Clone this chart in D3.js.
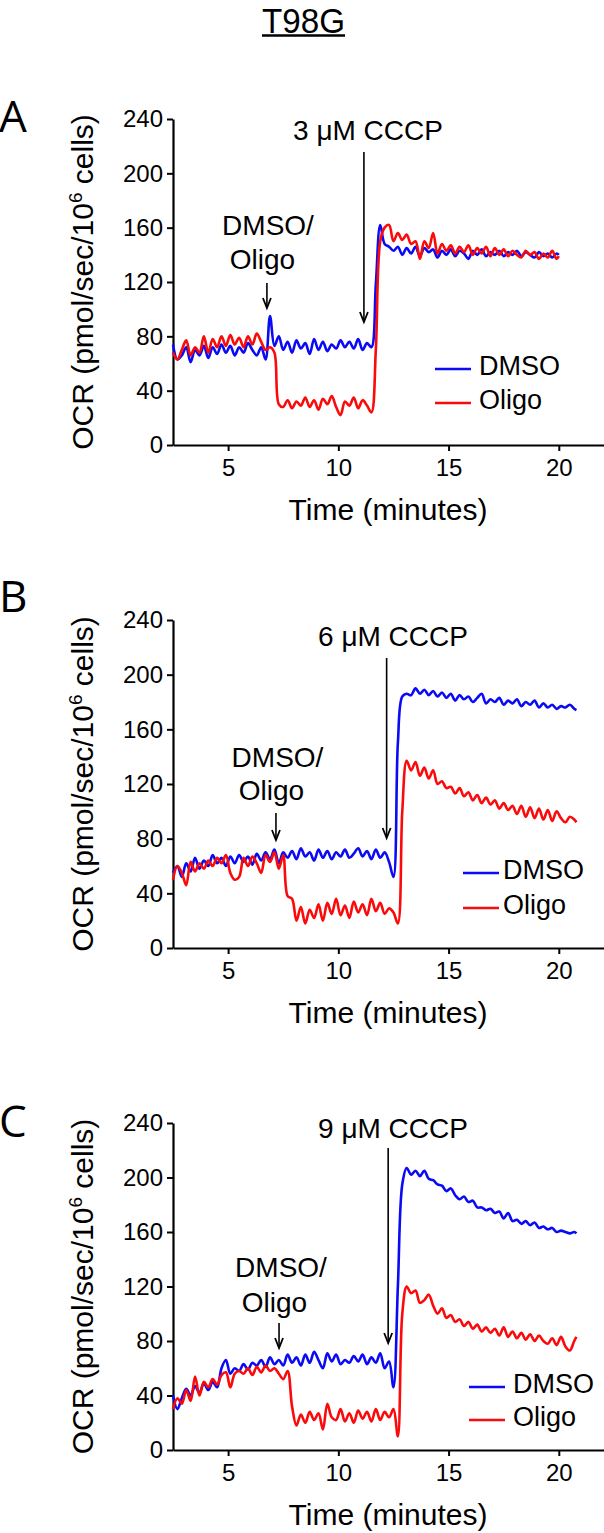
<!DOCTYPE html>
<html><head><meta charset="utf-8">
<script src="https://cdn.jsdelivr.net/npm/d3@7"></script>
<style>body{margin:0;background:#fff}svg{display:block}</style>
</head><body>
<script>
// ---------- DATA ----------
const timeA = [2.5,2.7,2.9,3.1,3.3,3.5,3.7,3.9,4.1,4.3,4.5,4.7,4.9,5.1,5.3,5.5,5.7,5.9,6.1,6.3,6.5,6.7,6.9,7.1,7.3,7.5,7.7,7.9,8.1,8.3,8.5,8.7,8.9,9.1,9.3,9.5,9.7,9.9,10.1,10.3,10.5,10.7,10.9,11.1,11.3,11.5,11.7,11.9,12.1,12.3,12.5,12.7,12.9,13.1,13.3,13.5,13.7,13.9,14.1,14.3,14.5,14.7,14.9,15.1,15.3,15.5,15.7,15.9,16.1,16.3,16.5,16.7,16.9,17.1,17.3,17.5,17.7,17.9,18.1,18.3,18.5,18.7,18.9,19.1,19.3,19.5,19.7,19.9,20.0];
const timeBC = [2.5,2.7,2.9,3.1,3.3,3.5,3.7,3.9,4.1,4.3,4.5,4.7,4.9,5.1,5.3,5.5,5.7,5.9,6.1,6.3,6.5,6.7,6.9,7.1,7.3,7.5,7.7,7.9,8.1,8.3,8.5,8.7,8.9,9.1,9.3,9.5,9.7,9.9,10.1,10.3,10.5,10.7,10.9,11.1,11.3,11.5,11.7,11.9,12.1,12.3,12.5,12.7,12.9,13.1,13.3,13.5,13.7,13.9,14.1,14.3,14.5,14.7,14.9,15.1,15.3,15.5,15.7,15.9,16.1,16.3,16.5,16.7,16.9,17.1,17.3,17.5,17.7,17.9,18.1,18.3,18.5,18.7,18.9,19.1,19.3,19.5,19.7,19.9,20.1,20.3,20.5,20.7,20.8];

const dmsoA = [74,63,66,72,61,70,66,73,64,72,67,74,68,73,66,72,68,75,70,66,72,
  63,95,73,80,70,76,68,77,71,75,67,78,70,76,69,74,71,77,72,76,71,78,70,75,72,
  118,162,148,146,143,146,140,145,141,146,139,145,142,144,138,143,140,144,139,143,141,137,143,140,144,139,142,140,143,139,142,140,143,139,142,140,138,142,139,141,138,141,
  140];
const oligoA = [68,63,70,77,66,72,68,80,68,78,72,80,73,81,74,79,72,80,74,82,76,
  70,72,68,30,28,33,27,32,29,35,28,33,26,34,30,36,28,22,32,29,35,27,33,29,24,
  70,150,160,162,150,156,151,155,148,150,137,150,145,156,141,148,143,147,141,146,142,147,140,145,141,146,139,145,140,144,139,143,140,138,143,140,142,137,141,138,143,137,
  139];

const dmsoB = [55,60,52,62,56,66,58,64,60,68,62,66,60,67,62,68,63,67,61,69,64,
  70,65,72,62,70,66,71,65,73,67,70,64,72,66,71,65,70,67,72,66,69,73,67,71,65,
  72,66,70,63,52,150,184,186,185,190,186,189,185,188,184,187,183,186,181,185,182,184,180,183,186,179,182,180,183,178,181,179,182,177,180,178,181,176,179,176,178,175,177,176,178,175,
  174];
const oligoB = [50,60,55,46,63,56,62,58,64,60,66,62,68,55,50,52,66,60,67,62,55,
  68,63,70,58,68,38,36,20,30,18,28,22,32,20,33,25,36,24,31,22,34,26,32,24,36,
  27,33,25,29,26,18,100,137,130,136,126,132,124,130,120,122,117,118,113,117,111,114,108,112,106,110,105,108,102,106,101,104,98,104,96,103,95,102,94,101,93,100,95,92,96,94,
  92];

const dmsoC = [40,30,38,45,40,47,42,49,44,50,46,60,66,56,60,58,63,59,64,62,66,
  61,68,63,66,62,70,64,68,62,70,64,72,66,60,71,65,70,63,66,64,69,65,70,63,68,
  64,71,60,65,46,120,195,207,202,205,201,205,199,198,195,194,190,192,187,184,186,182,183,178,178,176,177,174,175,170,174,168,169,166,168,165,167,163,164,162,163,160,161,160,159,160,
  159];
const oligoC = [30,38,34,44,36,54,40,50,46,52,48,55,57,46,56,58,56,60,55,61,57,
  62,58,60,56,52,58,32,18,26,20,28,22,27,15,34,24,22,30,21,27,20,29,23,28,21,
  30,22,28,24,30,10,100,120,115,117,108,110,114,106,100,104,97,99,94,96,91,94,89,92,87,90,86,89,84,90,83,87,82,86,81,85,80,84,80,78,82,77,83,76,73,80,
  83];

const yTicks = [0,40,80,120,160,200,240];
const xTicks = [5,10,15,20];
const seriesNames = ["DMSO","Oligo"];
const panelLabels = ["A","B","C"];
const cccpLabels = ["3 \u03BCM CCCP","6 \u03BCM CCCP","9 \u03BCM CCCP"];
const oligoInjection = [6.76, 7.17, 7.31];
const cccpInjection = [11.16, 12.19, 12.26];

// ---------- LAYOUT ----------
const W = 604, H = 1533;
const colors = ["#0a0af5", "#fa0a0a"];
const layout = [
  {top:119, bottom:445, labY:132, cccpTx:368, cccpTy:140, cccpY0:152, cccpY1:322,
   d1x:268, d1y:235, d2x:262.5, d2y:269, dY0:283, dY1:308, lx0:435, lx1:471, ly:[369,403], ltx:479},
  {top:620, bottom:948, labY:612, cccpTx:393, cccpTy:646, cccpY0:658, cccpY1:838,
   d1x:277.5, d1y:767, d2x:271.5, d2y:800, dY0:813, dY1:840, lx0:463, lx1:499, ly:[873,908], ltx:503},
  {top:1123, bottom:1450, labY:1137, cccpTx:393, cccpTy:1138, cccpY0:1148, cccpY1:1343,
   d1x:281, d1y:1277, d2x:274.5, d2y:1312, dY0:1323, dY1:1348, lx0:469, lx1:505, ly:[1387,1420], ltx:513}
];
const panels = [
  {time: timeA, series: [dmsoA, oligoA]},
  {time: timeBC, series: [dmsoB, oligoB]},
  {time: timeBC, series: [dmsoC, oligoC]}
];

const svg = d3.select("body").append("svg").attr("width", W).attr("height", H)
  .style("font-family", "'Liberation Sans', Arial, sans-serif");

// Title
svg.append("text").attr("x", 303.5).attr("y", 32.5).attr("text-anchor", "middle")
  .attr("font-family", "'Liberation Sans', Arial, sans-serif").attr("font-size", 35)
  .attr("textLength", 83).attr("lengthAdjust", "spacingAndGlyphs").text("T98G");
svg.append("line").attr("x1", 262).attr("x2", 345).attr("y1", 35.5).attr("y2", 35.5)
  .attr("stroke", "#000").attr("stroke-width", 2.5);

const x = d3.scaleLinear().domain([2.5, 22.05]).range([173, 604]);

panels.forEach((p, i) => {
  const L = layout[i];
  const y = d3.scaleLinear().domain([0, 240]).range([L.bottom, L.top]);
  const g = svg.append("g");

  // panel label
  g.append("text").attr("x", -1).attr("y", L.labY)
    .attr("font-family", "'Open Sans', sans-serif").attr("font-size", 44).text(panelLabels[i]);

  // axes
  const ya = g.append("g").attr("transform", `translate(173,0)`)
    .call(d3.axisLeft(y).tickValues(yTicks).tickSize(6).tickSizeOuter(0).tickPadding(4));
  const xa = g.append("g").attr("transform", `translate(0,${L.bottom})`)
    .call(d3.axisBottom(x).tickValues(xTicks).tickSize(6).tickSizeOuter(0).tickPadding(8));
  [ya, xa].forEach(a => {
    a.select(".domain").attr("stroke-width", 2.2);
    a.selectAll(".tick line").attr("stroke-width", 2);
    a.selectAll(".tick text").attr("font-size", 24).attr("fill", "#000")
      .attr("font-family", "'Liberation Sans', Arial, sans-serif");
  });

  // axis titles
  g.append("text").attr("x", 388).attr("y", L.bottom + 75).attr("text-anchor", "middle")
    .attr("font-size", 30).text("Time (minutes)");
  const yt = g.append("text").attr("transform", `translate(93,${(L.top + L.bottom) / 2}) rotate(-90)`)
    .attr("text-anchor", "middle").attr("font-size", 30);
  yt.append("tspan").text("OCR (pmol/sec/10");
  yt.append("tspan").attr("dy", -11).attr("font-size", 19).text("6");
  yt.append("tspan").attr("dy", 11).text(" cells)");

  // lines
  const line = d3.line().x((d, j) => x(p.time[j])).y(d => y(d)).curve(d3.curveCatmullRom.alpha(0.5));
  p.series.forEach((s, k) => {
    g.append("path").datum(s).attr("d", line).attr("fill", "none")
      .attr("stroke", colors[k]).attr("stroke-width", 2.6).attr("stroke-linejoin", "round");
  });

  // annotations
  const arrow = (ax, y0, y1) => {
    g.append("line").attr("x1", ax).attr("x2", ax).attr("y1", y0).attr("y2", y1 - 1)
      .attr("stroke", "#000").attr("stroke-width", 1.6);
    g.append("path").attr("d", `M${ax - 4},${y1 - 10} L${ax},${y1} L${ax + 4},${y1 - 10}`)
      .attr("fill", "none").attr("stroke", "#000").attr("stroke-width", 1.8);
  };
  g.append("text").attr("x", L.cccpTx).attr("y", L.cccpTy).attr("text-anchor", "middle")
    .attr("font-size", 28).text(cccpLabels[i]);
  arrow(x(cccpInjection[i]), L.cccpY0, L.cccpY1);
  g.append("text").attr("x", L.d1x).attr("y", L.d1y).attr("text-anchor", "middle")
    .attr("font-size", 28).text("DMSO/");
  g.append("text").attr("x", L.d2x).attr("y", L.d2y).attr("text-anchor", "middle")
    .attr("font-size", 28).text("Oligo");
  arrow(x(oligoInjection[i]), L.dY0, L.dY1);

  // legend
  seriesNames.forEach((n, k) => {
    g.append("line").attr("x1", L.lx0).attr("x2", L.lx1).attr("y1", L.ly[k]).attr("y2", L.ly[k])
      .attr("stroke", colors[k]).attr("stroke-width", 2.6);
    g.append("text").attr("x", L.ltx).attr("y", L.ly[k] + 5.5).attr("font-size", 27).text(n);
  });
});
</script>
</body></html>
